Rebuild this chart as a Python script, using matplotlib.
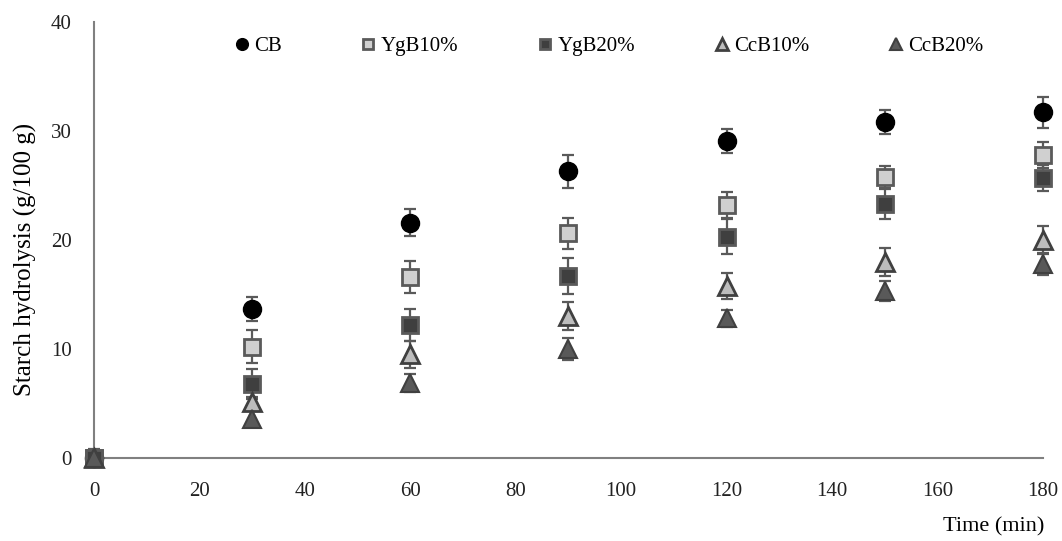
import matplotlib
matplotlib.use("Agg")
import matplotlib.pyplot as plt

plt.rcParams['font.family'] = ['Liberation Serif', 'DejaVu Serif']

time_min = [0, 30, 60, 90, 120, 150, 180]

cb = [0, 13.7, 21.6, 26.3, 29.1, 30.8, 31.7]
cb_err = [0.3, 1.1, 1.2, 1.5, 1.1, 1.1, 1.4]

ygb10 = [0, 10.2, 16.6, 20.6, 23.2, 25.8, 27.8]
ygb10_err = [0.3, 1.5, 1.5, 1.4, 1.2, 1.0, 1.2]

ygb20 = [0, 6.8, 12.2, 16.7, 20.3, 23.3, 25.7]
ygb20_err = [0.3, 1.4, 1.5, 1.65, 1.6, 1.4, 1.2]

ccb10 = [0, 5.1, 9.5, 13.0, 15.8, 18.0, 20.0]
ccb10_err = [0.3, 0.5, 1.2, 1.3, 1.2, 1.3, 1.3]

ccb20 = [0, 3.6, 6.9, 10.0, 12.8, 15.3, 17.8]
ccb20_err = [0.8, 0.75, 0.8, 1.0, 0.8, 0.9, 1.0]

series = [
    ("CB", cb, cb_err, dict(marker='o', ms=13, mfc='black', mec='black', mew=1)),
    ("YgB10%", ygb10, ygb10_err, dict(marker='s', ms=12, mfc='#d0d0d0', mec='#5a5a5a', mew=2)),
    ("YgB20%", ygb20, ygb20_err, dict(marker='s', ms=12, mfc='#3f3f3f', mec='#5a5a5a', mew=2)),
    ("CcB10%", ccb10, ccb10_err, dict(marker='^', ms=12.5, mfc='#bdbdbd', mec='#404040', mew=2)),
    ("CcB20%", ccb20, ccb20_err, dict(marker='^', ms=12.5, mfc='#595959', mec='#404040', mew=1.5)),
]

fig = plt.figure(figsize=(10.62, 5.41), dpi=100)
ax = fig.add_axes([0.0885, 0.1534, 0.8935, 0.8059])

handles = []
for label, vals, err, style in series:
    ax.errorbar(time_min, vals, yerr=err, fmt='none', ecolor='#5a5a5a',
                elinewidth=1.6, capsize=4.5, capthick=1.6, zorder=2)
    h, = ax.plot(time_min, vals, linestyle='none', label=label, zorder=3, **style)
    handles.append(h)

ax.set_xlim(0, 180)
ax.set_ylim(0, 40)
ax.set_xticks(range(0, 181, 20))
ax.set_yticks(range(0, 41, 10))
ax.tick_params(axis='both', length=0, labelsize=15, colors='#222222')
ax.tick_params(axis='x', pad=17)
ax.tick_params(axis='y', pad=16)
for side in ('top', 'right'):
    ax.spines[side].set_visible(False)
for side in ('left', 'bottom'):
    ax.spines[side].set_color('#808080')
    ax.spines[side].set_linewidth(1.5)
for artist in ax.get_children():
    try:
        artist.set_clip_on(False)
    except Exception:
        pass

ax.set_ylabel("Starch hydrolysis (g/100 g)", fontsize=18)
ax.yaxis.set_label_coords(-0.060, 0.456)
fig.text(0.983, 0.008, "Time (min)", ha='right', va='bottom', fontsize=16)

ax.legend(handles=handles, loc='upper left', bbox_to_anchor=(0.136, 0.995), ncol=5,
          frameon=False, fontsize=15, markerscale=0.65, handlelength=0.6,
          handletextpad=0.3, columnspacing=3.85, borderaxespad=0.2)

fig.savefig("out.png", dpi=100)
